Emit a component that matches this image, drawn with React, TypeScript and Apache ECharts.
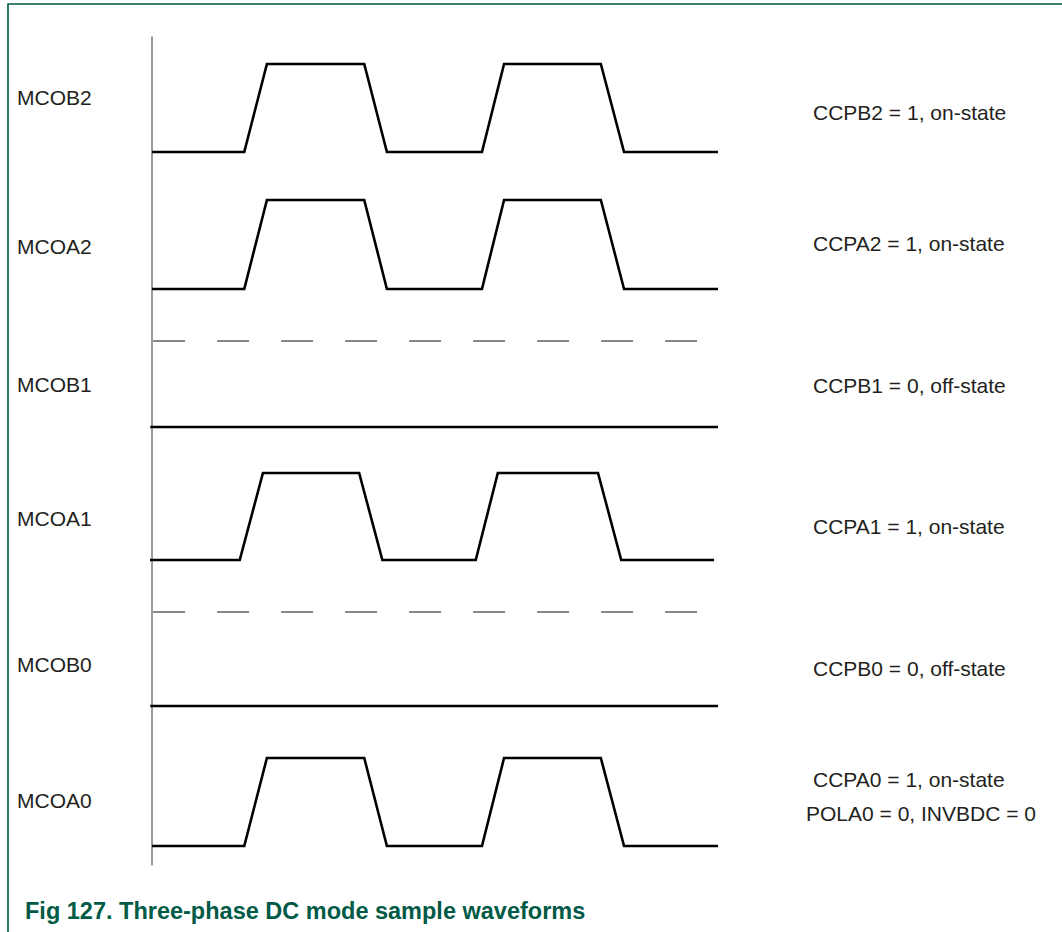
import React, { useEffect, useRef } from "react";
import * as echarts from "echarts";

// Signal names (left) and state descriptions (right)
const signalNames = ["MCOB2", "MCOA2", "MCOB1", "MCOA1", "MCOB0", "MCOA0"];
const stateLabels = [
  "CCPB2 = 1, on-state",
  "CCPA2 = 1, on-state",
  "CCPB1 = 0, off-state",
  "CCPA1 = 1, on-state",
  "CCPB0 = 0, off-state",
  "CCPA0 = 1, on-state",
];
const extraLabel = "POLA0 = 0, INVBDC = 0";
const caption = "Fig 127. Three-phase DC mode sample waveforms";

// Waveforms: time (0..100) and logic level (0 = low, 1 = high)
const mcob2Time = [0, 16.3, 20.3, 37.5, 41.5, 58.3, 62.2, 79.3, 83.4, 100];
const mcob2Level = [0, 0, 1, 1, 0, 0, 1, 1, 0, 0];
const mcoa2Time = [0, 16.3, 20.3, 37.5, 41.5, 58.3, 62.2, 79.3, 83.4, 100];
const mcoa2Level = [0, 0, 1, 1, 0, 0, 1, 1, 0, 0];
const mcob1Time = [-0.3, 100];
const mcob1Level = [0, 0];
const mcoa1Time = [-0.8, 15.5, 19.6, 36.6, 40.7, 57.2, 61.1, 78.8, 82.9, 99.3];
const mcoa1Level = [0, 0, 1, 1, 0, 0, 1, 1, 0, 0];
const mcob0Time = [-0.3, 100];
const mcob0Level = [0, 0];
const mcoa0Time = [0, 16.3, 20.3, 37.5, 41.5, 58.3, 62.2, 79.3, 83.4, 100];
const mcoa0Level = [0, 0, 1, 1, 0, 0, 1, 1, 0, 0];
// Dashed "high" reference for off-state outputs
const refTime = [0.2, 96.3];
const refLevel = [1, 1];

const zip = (t: number[], v: number[]) => t.map((x, i) => [x, v[i]]);

export default function App() {
  const ref = useRef<HTMLDivElement>(null);
  useEffect(() => {
    if (!ref.current) return;
    const chart = echarts.init(ref.current, null, { renderer: "svg" });

    const rows = [
      { high: 64, low: 152 },
      { high: 200, low: 289 },
      { high: 341, low: 427 },
      { high: 473, low: 560 },
      { high: 612, low: 706 },
      { high: 758, low: 846 },
    ];
    const waves = [
      zip(mcob2Time, mcob2Level),
      zip(mcoa2Time, mcoa2Level),
      zip(mcob1Time, mcob1Level),
      zip(mcoa1Time, mcoa1Level),
      zip(mcob0Time, mcob0Level),
      zip(mcoa0Time, mcoa0Level),
    ];
    const gridLeft = 152;
    const gridWidth = 566;

    const grids: any[] = rows.map((r) => ({
      left: gridLeft,
      top: r.high,
      width: gridWidth,
      height: r.low - r.high,
    }));
    grids.push({ left: gridLeft, top: 37, width: gridWidth, height: 828 });

    const xAxes: any[] = grids.map((_, i) => ({
      type: "value",
      gridIndex: i,
      min: 0,
      max: 100,
      show: false,
    }));
    const yAxes: any[] = grids.map((_, i) => ({
      type: "value",
      gridIndex: i,
      min: 0,
      max: 1,
      show: i === 6,
      axisLine: { show: i === 6, onZero: false, lineStyle: { color: "#7a7a7a", width: 1.5 } },
      axisTick: { show: false },
      axisLabel: { show: false },
      splitLine: { show: false },
    }));

    const series: any[] = waves.map((d, i) => ({
      type: "line",
      xAxisIndex: i,
      yAxisIndex: i,
      data: d,
      symbol: "none",
      clip: false,
      lineStyle: { color: "#000", width: 2.6, join: "miter" },
      silent: true,
    }));
    [2, 4].forEach((i) => {
      series.push({
        type: "line",
        xAxisIndex: i,
        yAxisIndex: i,
        data: zip(refTime, refLevel),
        symbol: "none",
        clip: false,
        lineStyle: { color: "#5f5f5f", width: 1.4, type: [32, 32] },
        silent: true,
      });
    });

    const leftY = [97, 246, 384, 518, 664, 800];
    const rightY = [112, 243, 385, 526, 668, 779];
    const font = '21px "Liberation Sans", Arial, sans-serif';
    const graphic: any[] = [];
    signalNames.forEach((s, i) => {
      graphic.push({
        type: "text",
        x: 17,
        y: leftY[i],
        style: { text: s, font, fill: "#231f20", verticalAlign: "middle" },
      });
    });
    stateLabels.forEach((s, i) => {
      graphic.push({
        type: "text",
        x: 813,
        y: rightY[i],
        style: { text: s, font, fill: "#231f20", verticalAlign: "middle" },
      });
    });
    graphic.push({
      type: "text",
      x: 806,
      y: 813,
      style: { text: extraLabel, font, fill: "#231f20", verticalAlign: "middle" },
    });
    graphic.push({
      type: "text",
      x: 25,
      y: 911,
      style: {
        text: caption,
        font: 'bold 23.5px "Liberation Sans", Arial, sans-serif',
        fill: "#005a46",
        verticalAlign: "middle",
      },
    });
    graphic.push({
      type: "polyline",
      shape: { points: [[8, 932], [8, 4], [1062, 4]] },
      style: { stroke: "#005a46", lineWidth: 1.6, fill: "none" },
    });

    chart.setOption({
      animation: false,
      backgroundColor: "#fff",
      grid: grids,
      xAxis: xAxes,
      yAxis: yAxes,
      series,
      graphic,
    });
    return () => chart.dispose();
  }, []);

  return (
    <div
      ref={ref}
      style={{ position: "absolute", left: 0, top: 0, width: 1062, height: 932 }}
    />
  );
}
